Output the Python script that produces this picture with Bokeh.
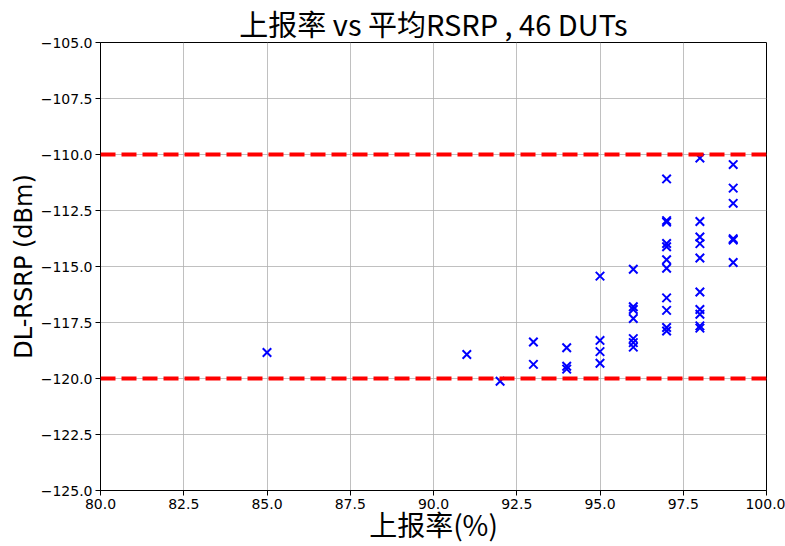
from bokeh.plotting import figure
from bokeh.models import Range1d, FixedTicker, Span
from bokeh.embed import file_html
from bokeh.resources import INLINE

# ---- data ----
rate = [85, 91, 92, 93, 93, 94, 94, 94, 95, 95, 95, 95,
        96, 96, 96, 96, 96, 96, 96,
        97, 97, 97, 97, 97, 97, 97, 97, 97, 97, 97,
        98, 98, 98, 98, 98, 98, 98, 98, 98, 98,
        99, 99, 99, 99, 99, 99]
rsrp = [-118.84, -118.93, -120.12, -118.37, -119.37, -118.63, -119.45, -119.58,
        -115.43, -118.30, -118.80, -119.32,
        -115.12, -116.80, -116.92, -117.32, -118.22, -118.40, -118.60,
        -111.09, -112.95, -113.02, -113.97, -114.12, -114.70, -115.08, -116.40, -116.96, -117.72, -117.88,
        -110.16, -112.99, -113.68, -113.98, -114.62, -116.14, -116.92, -117.13, -117.65, -117.75,
        -110.45, -111.50, -112.18, -113.76, -113.82, -114.82]
thresholds = [-110, -120]

x_ticks = [80, 82.5, 85, 87.5, 90, 92.5, 95, 97.5, 100]
x_tick_labels = ["80.0", "82.5", "85.0", "87.5", "90.0", "92.5", "95.0", "97.5", "100.0"]
y_ticks = [-125, -122.5, -120, -117.5, -115, -112.5, -110, -107.5, -105]
y_tick_labels = ["\u2212125.0", "\u2212122.5", "\u2212120.0", "\u2212117.5", "\u2212115.0",
                 "\u2212112.5", "\u2212110.0", "\u2212107.5", "\u2212105.0"]

title_text = "上报率 vs 平均RSRP , 46 DUTs"
x_label = "上报率(%)"
y_label = "DL-RSRP (dBm)"

p = figure(width=785, height=546, output_backend="svg", toolbar_location=None,
           x_range=Range1d(80, 100), y_range=Range1d(-125, -105),
           min_border_left=100, min_border_right=19, min_border_top=42, min_border_bottom=56,
           title=title_text)
p.background_fill_color = "white"
p.border_fill_color = "white"
p.outline_line_color = "black"
p.outline_line_width = 1

p.title.text_font = "Noto Sans CJK SC"
p.title.text_font_size = "29px"
p.title.text_font_style = "normal"
p.title.text_color = "black"
p.title.align = "center"
p.title.standoff = -2
p.title.offset = 0

for ax, ticks, labels in ((p.xaxis[0], x_ticks, x_tick_labels), (p.yaxis[0], y_ticks, y_tick_labels)):
    ax.ticker = FixedTicker(ticks=ticks)
    ax.major_label_overrides = {t: l for t, l in zip(ticks, labels)}
    ax.major_label_text_font = "DejaVu Sans"
    ax.major_label_text_font_size = "14px"
    ax.major_label_text_color = "black"
    ax.major_tick_out = 5
    ax.major_tick_in = 0
    ax.minor_tick_out = 0
    ax.minor_tick_in = 0
    ax.axis_line_color = "black"
    ax.major_tick_line_color = "black"
    ax.major_label_standoff = 3
    ax.axis_label_text_font_style = "normal"
    ax.axis_label_text_color = "black"

p.xaxis.axis_label = x_label
p.xaxis.axis_label_text_font = "Noto Sans CJK SC"
p.xaxis.axis_label_text_font_size = "28px"
p.xaxis.axis_label_standoff = -8
p.yaxis.axis_label = y_label
p.yaxis.axis_label_text_font = "DejaVu Sans"
p.yaxis.axis_label_text_font_size = "24px"
p.yaxis.axis_label_standoff = 0

p.xgrid.ticker = FixedTicker(ticks=x_ticks)
p.ygrid.ticker = FixedTicker(ticks=y_ticks)
p.grid.grid_line_color = "#b0b0b0"
p.grid.grid_line_width = 0.8

for t in thresholds:
    p.add_layout(Span(location=t, dimension="width", line_color="red",
                      line_width=4, line_dash="15 6"))

p.scatter(rate, rsrp, marker="x", size=12, line_width=2, line_color="blue")

open("out.html", "w").write(file_html(p, INLINE))
